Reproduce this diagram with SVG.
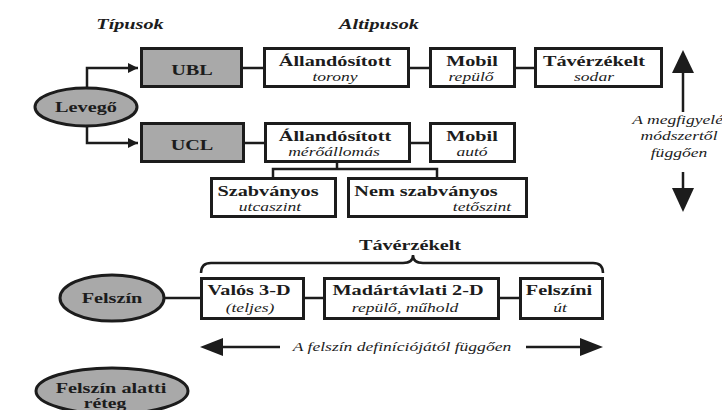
<svg xmlns="http://www.w3.org/2000/svg" width="722" height="410" viewBox="0 0 722 410">
<style>
text{font-family:"Liberation Serif","Times New Roman",serif;fill:#1c1c1c;text-anchor:middle}
.b{font-weight:bold;font-size:15px}
.s{font-size:14px}
.i{font-style:italic;font-size:13px}
.bi{font-weight:bold;font-style:italic;font-size:15px}
.box{fill:#fff;stroke:#1c1c1c;stroke-width:3}
.gbox{fill:#a9a9a9;stroke:#1c1c1c;stroke-width:3}
.ell{fill:#a9a9a9;stroke:#1c1c1c;stroke-width:3}
.ln{fill:none;stroke:#1c1c1c;stroke-width:2.5}
.head{fill:#1c1c1c}
</style>
<defs>
<marker id="arr" viewBox="0 0 10 10" refX="10" refY="5" markerWidth="4" markerHeight="4" orient="auto" markerUnits="strokeWidth">
<path d="M0,0 L10,5 L0,10 Z" fill="#1c1c1c"/>
</marker>
</defs>
<rect width="722" height="410" fill="#fff"/>

<g id="headers">
<text class="bi" transform="translate(130,29) scale(1.35,1)">Típusok</text>
<text class="bi" transform="translate(379,29) scale(1.35,1)">Altipusok</text>
</g>

<g id="connectors">
<path class="ln" d="M87,88 V68 H138" marker-end="url(#arr)"/>
<path class="ln" d="M87,126 V143 H138" marker-end="url(#arr)"/>
<path class="ln" d="M243,68 H263 M410,68 H429 M516,68 H534"/>
<path class="ln" d="M244,143 H264 M411,143 H429"/>
<path class="ln" d="M337,163 V169 M273,177 V169 H437 V177"/>
<path class="ln" d="M164,298 H200 M305,298 H323 M500,298 H519"/>
<path class="ln" d="M201,273 Q201,263 211,263 H403 Q413,263 413,255 Q413,263 423,263 H593 Q603,263 603,273"/>
<path class="ln" d="M683,72 V112 M683,172 V190 M222,347 H280 M526,347 H584"/>
<path class="head" d="M683,50 L694,73 L672,73 Z"/>
<path class="head" d="M683,212 L694,188 L672,188 Z"/>
<path class="head" d="M200,347 L223,338 L223,356 Z"/>
<path class="head" d="M603,347 L580,338 L580,356 Z"/>
</g>

<g id="levego">
<ellipse class="ell" cx="86" cy="107" rx="51" ry="19"/>
<text class="b" transform="translate(86,112) scale(1.35,1)">Levegő</text>
</g>
<g id="ubl">
<rect class="gbox" x="141.5" y="48.5" width="100" height="38"/>
<text class="b" transform="translate(192,75) scale(1.35,1)">UBL</text>
</g>
<g id="ucl">
<rect class="gbox" x="141.5" y="123.5" width="102" height="38"/>
<text class="b" transform="translate(192,150) scale(1.35,1)">UCL</text>
</g>
<g id="allando1">
<rect class="box" x="264.5" y="48.5" width="144" height="38"/>
<text class="b" transform="translate(335,66) scale(1.35,1)">Állandósított</text>
<text class="i" transform="translate(335,81) scale(1.35,1)">torony</text>
</g>
<g id="mobil1">
<rect class="box" x="430.5" y="48.5" width="84" height="38"/>
<text class="b" transform="translate(472,66) scale(1.35,1)">Mobil</text>
<text class="i" transform="translate(471,81) scale(1.35,1)">repülő</text>
</g>
<g id="taverzekelt1">
<rect class="box" x="535.5" y="48.5" width="126" height="38"/>
<text class="b" transform="translate(594,66) scale(1.35,1)">Távérzékelt</text>
<text class="i" transform="translate(594,81) scale(1.35,1)">sodar</text>
</g>
<g id="allando2">
<rect class="box" x="265.5" y="123.5" width="144" height="38"/>
<text class="b" transform="translate(335,141) scale(1.35,1)">Állandósított</text>
<text class="i" transform="translate(334,156) scale(1.35,1)">mérőállomás</text>
</g>
<g id="mobil2">
<rect class="box" x="430.5" y="123.5" width="84" height="38"/>
<text class="b" transform="translate(472,141) scale(1.35,1)">Mobil</text>
<text class="i" transform="translate(472,156) scale(1.35,1)">autó</text>
</g>
<g id="szabvanyos">
<rect class="box" x="211.5" y="178.5" width="124" height="38"/>
<text class="b" transform="translate(268,196) scale(1.35,1)">Szabványos</text>
<text class="i" transform="translate(270,211) scale(1.35,1)">utcaszint</text>
</g>
<g id="nemszabvanyos">
<rect class="box" x="348.5" y="178.5" width="178" height="38"/>
<text class="b" transform="translate(426,196) scale(1.35,1)">Nem szabványos</text>
<text class="i" transform="translate(482,211) scale(1.35,1)">tetőszint</text>
</g>
<g id="megfigyeles">
<text class="i" transform="translate(681,124) scale(1.35,1)">A megfigyelés</text>
<text class="i" transform="translate(679,140) scale(1.35,1)">módszertől</text>
<text class="i" transform="translate(679,157) scale(1.35,1)">függően</text>
</g>
<g id="taverzekelt-label">
<text class="b" transform="translate(410,250) scale(1.35,1)">Távérzékelt</text>
</g>
<g id="felszin">
<ellipse class="ell" cx="112" cy="298" rx="52" ry="23"/>
<text class="b" transform="translate(112,303) scale(1.35,1)">Felszín</text>
</g>
<g id="valos">
<rect class="box" x="201.5" y="278.5" width="102" height="40"/>
<text class="b" transform="translate(249,295) scale(1.35,1)">Valós 3-D</text>
<text class="i" transform="translate(250,312) scale(1.35,1)">(teljes)</text>
</g>
<g id="madartavlati">
<rect class="box" x="324.5" y="278.5" width="174" height="40"/>
<text class="b" transform="translate(408,295) scale(1.35,1)">Madártávlati 2-D</text>
<text class="i" transform="translate(405,312) scale(1.35,1)">repülő, műhold</text>
</g>
<g id="felszini">
<rect class="box" x="520.5" y="278.5" width="82" height="40"/>
<text class="b" transform="translate(559,295) scale(1.35,1)">Felszíni</text>
<text class="i" transform="translate(560,312) scale(1.35,1)">út</text>
</g>
<g id="felszin-def">
<text class="i" transform="translate(402,351) scale(1.35,1)">A felszín definíciójától függően</text>
</g>
<g id="felszin-alatti">
<ellipse class="ell" cx="112" cy="391" rx="76" ry="23"/>
<text class="b" transform="translate(111,393) scale(1.35,1)">Felszín alatti</text>
<text class="b s" transform="translate(105,408) scale(1.4,1)">réteg</text>
</g>
</svg>
